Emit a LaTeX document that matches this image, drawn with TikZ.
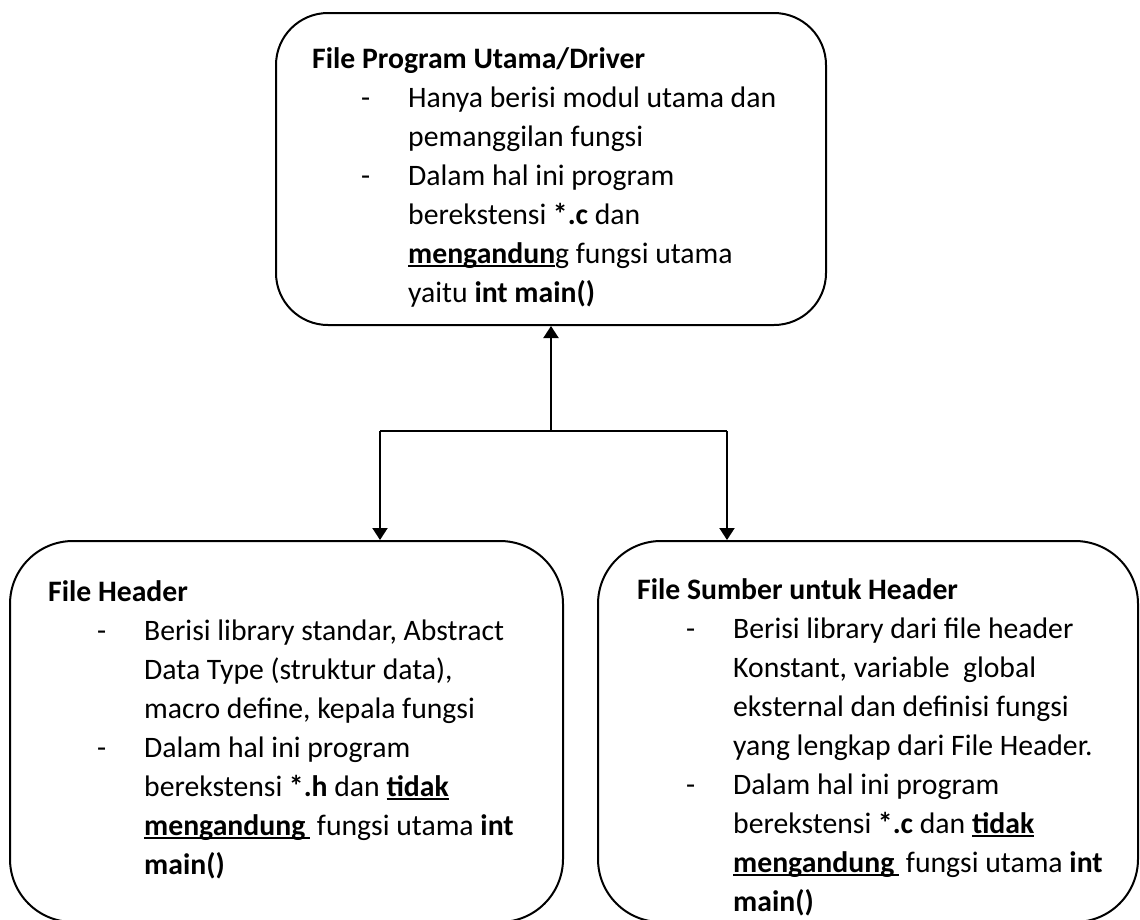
\documentclass[tikz,border=0pt]{standalone}
\usepackage{fontspec}
\setmainfont{Carlito}
\usetikzlibrary{arrows.meta}
\newlength\dashA \setlength\dashA{49pt}
\newlength\txtX \setlength\txtX{96pt}
\newcommand\itm[1]{\makebox[\txtX][l]{\hspace*{\dashA}-}#1}
\newcommand\cnt[1]{\hspace*{\txtX}#1}
\newcommand\myul[1]{\leavevmode\setbox0\hbox{#1}\rlap{\rule[-4pt]{\wd0}{1.8pt}}\box0}
\begin{document}
\begin{tikzpicture}[x=1pt,y=-1pt,
  box/.style={draw,line width=2pt,rounded corners=#1,inner sep=0},
  txt/.style={anchor=base west,inner sep=0,font=\fontsize{29.7}{39}\selectfont},
  conn/.style={line width=2pt},
  arr/.style={line width=2pt,-{Triangle[width=15pt,length=12pt]}}]
\clip (0,0) rectangle (1140,919);
\useasboundingbox (0,0) rectangle (1140,919);
% boxes
\node[box=52pt,minimum width=550pt,minimum height=312pt] (main) at (551,169) {};
\node[box=63pt,minimum width=553pt,minimum height=381pt] (hdr) at (286.5,731.5) {};
\node[box=63pt,minimum width=540pt,minimum height=381pt] (src) at (868,731.5) {};
% texts
\node[txt] (tmain) at (312,68) {\begin{tabular}[t]{@{}l@{}}
\textbf{File Program Utama/Driver}\\
\itm{Hanya berisi modul utama dan}\\
\cnt{pemanggilan fungsi}\\
\itm{Dalam hal ini program}\\
\cnt{berekstensi \textbf{*.c} dan}\\
\cnt{\myul{\textbf{mengandun}}g fungsi utama}\\
\cnt{yaitu \textbf{int main()}}
\end{tabular}};
\node[txt] (thdr) at (48,601) {\begin{tabular}[t]{@{}l@{}}
\textbf{File Header}\\
\itm{Berisi library standar, Abstract}\\
\cnt{Data Type (struktur data),}\\
\cnt{macro define, kepala fungsi}\\
\itm{Dalam hal ini program}\\
\cnt{berekstensi \textbf{*.h} dan \myul{\textbf{tidak}}}\\
\cnt{\myul{\textbf{mengandung}\,}\ fungsi utama \textbf{int}}\\
\cnt{\textbf{main()}}
\end{tabular}};
\node[txt] (tsrc) at (637,599) {\begin{tabular}[t]{@{}l@{}}
\textbf{File Sumber untuk Header}\\
\itm{Berisi library dari file header}\\
\cnt{Konstant, variable\ \ global}\\
\cnt{eksternal dan definisi fungsi}\\
\cnt{yang lengkap dari File Header.}\\
\itm{Dalam hal ini program}\\
\cnt{berekstensi \textbf{*.c} dan \myul{\textbf{tidak}}}\\
\cnt{\myul{\textbf{mengandung}\,}\ fungsi utama \textbf{int}}\\
\cnt{\textbf{main()}}
\end{tabular}};
% connectors
\coordinate (j) at (main.south |- 0,431);
\coordinate (jl) at (380,431);
\coordinate (jr) at (727,431);
\draw[conn] (jl) -- (jr);
\draw[arr] (j) -- (main.south);
\draw[arr] (jl) -- (jl |- hdr.north);
\draw[arr] (jr) -- (jr |- src.north);
\end{tikzpicture}
\end{document}
